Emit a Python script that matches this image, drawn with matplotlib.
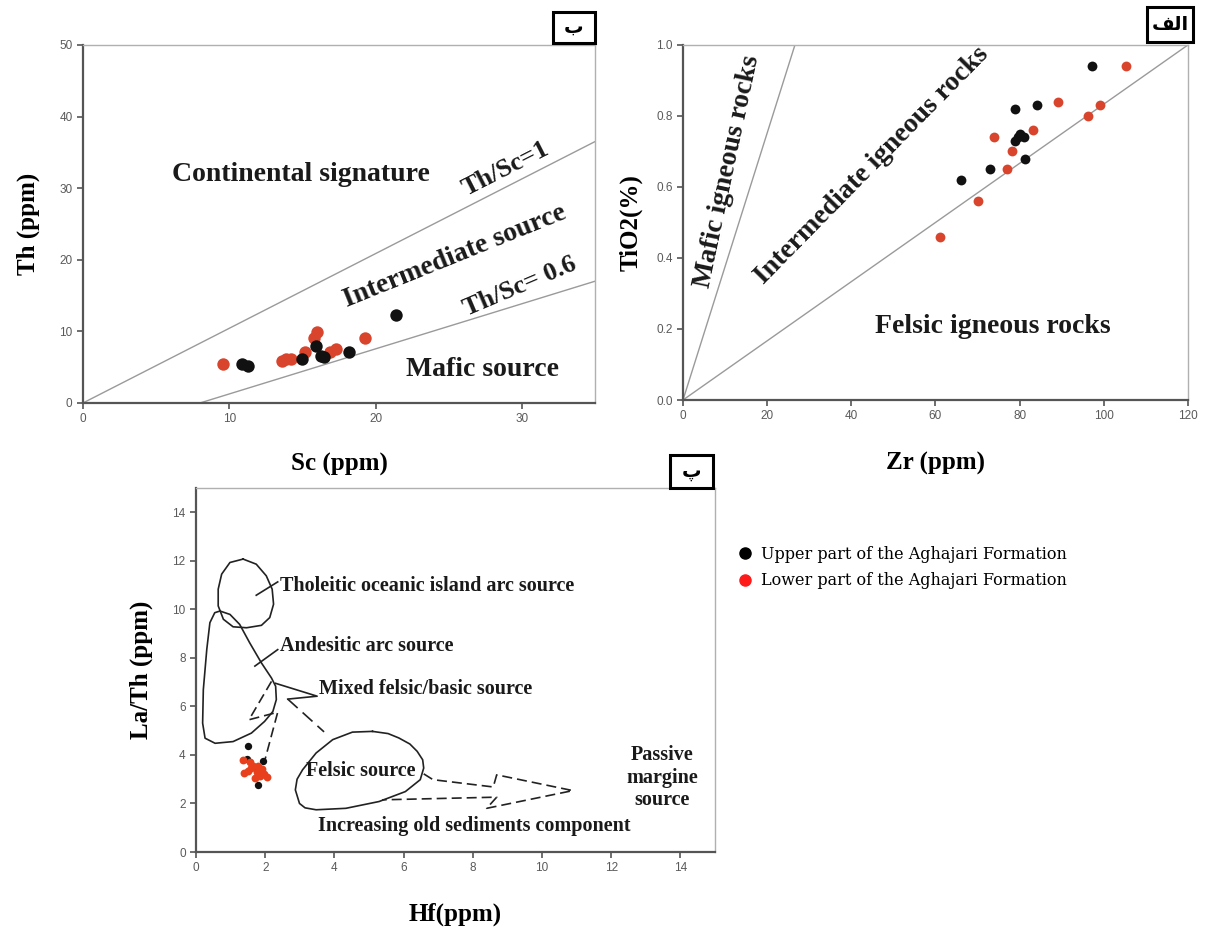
"""
Provenance discrimination diagrams for the Aghajari Formation samples:
Th vs Sc, TiO2 vs Zr and La/Th vs Hf.
"""

import numpy as np
import matplotlib
matplotlib.use("Agg")
import matplotlib.pyplot as plt
from matplotlib.patches import Rectangle
from matplotlib.lines import Line2D

# ---- Th vs Sc (panel b) ----
sc_upper = [10.9, 11.3, 15.0, 15.9, 16.3, 16.5, 18.2, 21.4]
th_upper = [5.5, 5.1, 6.1, 8.0, 6.6, 6.4, 7.1, 12.3]
sc_lower = [9.6, 13.6, 13.9, 14.2, 15.2, 15.8, 16.0, 16.9, 17.3, 19.3]
th_lower = [5.5, 5.9, 6.1, 6.2, 7.1, 9.1, 9.9, 7.1, 7.6, 9.1]
thsc1_x, thsc1_y = [0, 35], [0, 36.5]
thsc06_x, thsc06_y = [8.0, 35], [0, 17.0]

# ---- TiO2 vs Zr (panel alef) ----
zr_upper = [97.1, 84.1, 79.0, 79.0, 80.1, 81.0, 81.2, 73.0, 66.1, 79.7]
ti_upper = [0.94, 0.83, 0.82, 0.73, 0.75, 0.74, 0.68, 0.65, 0.62, 0.74]
zr_lower = [105.3, 99.2, 96.2, 89.1, 83.2, 74.0, 78.1, 76.9, 70.1, 61.1]
ti_lower = [0.94, 0.83, 0.80, 0.84, 0.76, 0.74, 0.70, 0.65, 0.56, 0.46]
mafic_x, mafic_y = [0, 26.6], [0, 1.0]
felsic_x, felsic_y = [0, 120], [0, 1.0]

# ---- La/Th vs Hf (panel pe) ----
hf_upper = [1.50, 1.48, 1.93, 1.80, 1.75]
lath_upper = [4.35, 3.85, 3.75, 2.75, 3.40]
hf_lower = [1.35, 1.55, 1.40, 1.60, 1.75, 1.85, 1.95, 2.05, 1.70, 1.65, 1.80, 1.50, 1.90]
lath_lower = [3.80, 3.70, 3.25, 3.45, 3.30, 3.15, 3.20, 3.10, 3.05, 3.55, 3.55, 3.35, 3.40]

thol_x = [1.36, 1.74, 2.03, 2.20, 2.24, 2.13, 1.89, 1.46, 1.07, 0.79, 0.64, 0.64, 0.74, 0.98]
thol_y = [12.07, 11.86, 11.38, 10.83, 10.21, 9.66, 9.34, 9.24, 9.28, 9.59, 10.14, 10.83, 11.45, 11.93]
andes_x = [0.69, 0.98, 1.26, 1.55, 1.89, 2.18, 2.30, 2.32, 2.22, 1.98, 1.60, 1.07, 0.55,
           0.26, 0.19, 0.21, 0.31, 0.40, 0.54]
andes_y = [9.93, 9.79, 9.38, 8.62, 7.79, 7.17, 6.83, 6.28, 5.79, 5.38, 4.90, 4.55, 4.48,
           4.69, 5.31, 6.69, 8.35, 9.45, 9.86]
felsic_src_x = [5.10, 5.55, 5.86, 6.18, 6.39, 6.55, 6.58, 6.48, 6.05, 5.29, 4.33, 3.47,
                3.15, 2.99, 2.87, 2.92, 3.08, 3.47, 3.95, 4.52]
felsic_src_y = [4.97, 4.88, 4.70, 4.45, 4.15, 3.80, 3.46, 2.98, 2.49, 2.08, 1.80, 1.74,
                1.82, 2.00, 2.56, 3.00, 3.39, 4.08, 4.63, 4.94]
mixed_x = [2.18, 1.53, 2.36, 1.98]
mixed_y = [7.03, 5.45, 5.76, 3.74]
arrow_x = [6.58, 6.85, 8.59, 8.69, 10.89, 8.40, 8.69, 5.38]
arrow_y = [3.22, 2.98, 2.68, 3.18, 2.53, 1.80, 2.26, 2.15]
lead_thol_x, lead_thol_y = [1.74, 2.36], [10.58, 11.13]
lead_andes_x, lead_andes_y = [1.70, 2.36], [7.66, 8.34]
lead_mixed_x, lead_mixed_y = [2.30, 3.50, 2.65], [6.95, 6.42, 6.30]
lead_mixed2_x, lead_mixed2_y = [2.65, 3.70], [6.30, 4.95]

RED = "#d8452c"
BLACK = "#111111"
SERIF = "Liberation Serif"
SANS = "Liberation Sans"


def style_axes(ax, xticks, yticks, xlim, ylim, yfmt=None):
    ax.set_xlim(*xlim)
    ax.set_ylim(*ylim)
    ax.set_xticks(xticks)
    ax.set_yticks(yticks)
    if yfmt:
        ax.set_yticklabels([yfmt.format(v) for v in yticks])
    for side in ("top", "right"):
        ax.spines[side].set_color("#b0b0b0")
        ax.spines[side].set_linewidth(1.0)
    for side in ("left", "bottom"):
        ax.spines[side].set_color("#555555")
        ax.spines[side].set_linewidth(1.6)
    ax.tick_params(direction="out", length=4, width=1.2, color="#555555",
                   labelsize=8.5, labelcolor="#5a5a5a")
    for lab in ax.get_xticklabels() + ax.get_yticklabels():
        lab.set_family(SANS)


def bold(ax, x, y, s, size=20, rot=0, **kw):
    ax.text(x, y, s, fontsize=size, rotation=rot, family=SERIF, weight="bold",
            color="#1a1a1a", rotation_mode="anchor", **kw)


fig = plt.figure(figsize=(12.08, 9.27), dpi=100)

# ---------------- panel b: Th vs Sc ----------------
ax1 = fig.add_axes([0.0687, 0.5653, 0.4238, 0.3862])
ax1.plot(thsc1_x, thsc1_y, color="#9a9a9a", lw=1.0)
ax1.plot(thsc06_x, thsc06_y, color="#9a9a9a", lw=1.0)
ax1.scatter(sc_lower, th_lower, s=80, color=RED, zorder=3, lw=0)
ax1.scatter(sc_upper, th_upper, s=80, color=BLACK, zorder=3, lw=0)
style_axes(ax1, [0, 10, 20, 30], [0, 10, 20, 30, 40, 50], (0, 35), (0, 50))
bold(ax1, 14.9, 31.9, "Continental signature", ha="center", va="center")
bold(ax1, 28.9, 32.7, "Th/Sc=1", size=19, rot=27, ha="center", va="center")
bold(ax1, 25.4, 20.5, "Intermediate source", rot=22, ha="center", va="center")
bold(ax1, 29.9, 16.3, "Th/Sc= 0.6", size=19, rot=23, ha="center", va="center")
bold(ax1, 27.3, 4.7, "Mafic source", ha="center", va="center")
ax1.set_xlabel("Sc (ppm)", family=SERIF, weight="bold", fontsize=18, labelpad=20)
ax1.set_ylabel("Th (ppm)", family=SERIF, weight="bold", fontsize=18, labelpad=14)

# ---------------- panel alef: TiO2 vs Zr ----------------
ax2 = fig.add_axes([0.5654, 0.5685, 0.4180, 0.3830])
ax2.plot(mafic_x, mafic_y, color="#9a9a9a", lw=1.0)
ax2.plot(felsic_x, felsic_y, color="#9a9a9a", lw=1.0)
ax2.scatter(zr_lower, ti_lower, s=50, color=RED, zorder=3, lw=0)
ax2.scatter(zr_upper, ti_upper, s=50, color=BLACK, zorder=3, lw=0)
style_axes(ax2, [0, 20, 40, 60, 80, 100, 120], [0, 0.2, 0.4, 0.6, 0.8, 1.0],
           (0, 120), (0, 1.0), yfmt="{:.1f}")
bold(ax2, 10.5, 0.643, "Mafic igneous rocks", rot=78, ha="center", va="center")
bold(ax2, 44.9, 0.662, "Intermediate igneous rocks", rot=45.5, ha="center", va="center")
bold(ax2, 73.7, 0.207, "Felsic igneous rocks", ha="center", va="center")
ax2.set_xlabel("Zr (ppm)", family=SERIF, weight="bold", fontsize=18, labelpad=21)
ax2.set_ylabel("TiO2(%)", family=SERIF, weight="bold", fontsize=18, labelpad=10)

# ---------------- panel pe: La/Th vs Hf ----------------
ax3 = fig.add_axes([0.1623, 0.0809, 0.4296, 0.3927])
ln = dict(color="#222222", lw=1.2)
ax3.plot(np.append(thol_x, thol_x[0]), np.append(thol_y, thol_y[0]), **ln)
ax3.plot(np.append(andes_x, andes_x[0]), np.append(andes_y, andes_y[0]), **ln)
ax3.plot(np.append(felsic_src_x, felsic_src_x[0]), np.append(felsic_src_y, felsic_src_y[0]), **ln)
ax3.plot(mixed_x, mixed_y, color="#222222", lw=1.2, ls=(0, (6, 3)))
ax3.plot(arrow_x, arrow_y, color="#222222", lw=1.2, ls=(0, (6, 3)))
ax3.plot(lead_thol_x, lead_thol_y, **ln)
ax3.plot(lead_andes_x, lead_andes_y, **ln)
ax3.plot(lead_mixed_x, lead_mixed_y, **ln)
ax3.plot(lead_mixed2_x, lead_mixed2_y, color="#222222", lw=1.2, ls=(0, (8, 4)))
ax3.scatter(hf_upper, lath_upper, s=28, color=BLACK, zorder=3, lw=0)
ax3.scatter(hf_lower, lath_lower, s=32, color="#e8401c", zorder=4, lw=0)
style_axes(ax3, range(0, 15, 2), range(0, 15, 2), (0, 15), (0, 15))
bold(ax3, 2.42, 10.95, "Tholeitic oceanic island arc source", size=14.5, va="center")
bold(ax3, 2.42, 8.48, "Andesitic arc source", size=14.5, va="center")
bold(ax3, 3.55, 6.70, "Mixed felsic/basic source", size=14.5, va="center")
bold(ax3, 3.17, 3.34, "Felsic source", size=14.5, va="center")
bold(ax3, 13.48, 3.06, "Passive\nmargine\nsource", size=14.5, ha="center", va="center",
     linespacing=1.15)
bold(ax3, 8.05, 1.07, "Increasing old sediments component", size=14.5, ha="center", va="center")
ax3.set_xlabel("Hf(ppm)", family=SERIF, weight="bold", fontsize=18, labelpad=20)
ax3.set_ylabel("La/Th (ppm)", family=SERIF, weight="bold", fontsize=18, labelpad=14)

# ---------------- legend ----------------
handles = [Line2D([], [], marker="o", ls="none", color="black", markersize=8),
           Line2D([], [], marker="o", ls="none", color="#ff1a1a", markersize=8)]
fig.legend(handles, ["Upper part of the Aghajari Formation",
                     "Lower part of the Aghajari Formation"],
           loc="upper left", bbox_to_anchor=(0.598, 0.427), frameon=False,
           prop=dict(family="DejaVu Serif", size=11.5), handletextpad=0.5,
           labelspacing=0.6, handlelength=1.0)

# ---------------- panel tags ----------------
tags = [("\u0628", 0.4578, 0.9536, 0.0348, 0.0334),
        ("\uFED2\uFEDF\uFE8D", 0.9495, 0.9547, 0.0381, 0.0378),
        ("\u067E", 0.5546, 0.4736, 0.0356, 0.0356)]
for txt, x0, y0, w, h in tags:
    fig.add_artist(Rectangle((x0, y0), w, h, transform=fig.transFigure,
                             fc="white", ec="black", lw=2.2, zorder=10))
    fig.text(x0 + w / 2, y0 + h / 2, txt, ha="center", va="center", fontsize=14,
             weight="bold", family=["DejaVu Sans"], zorder=11)

fig.savefig("out.png", dpi=100)
